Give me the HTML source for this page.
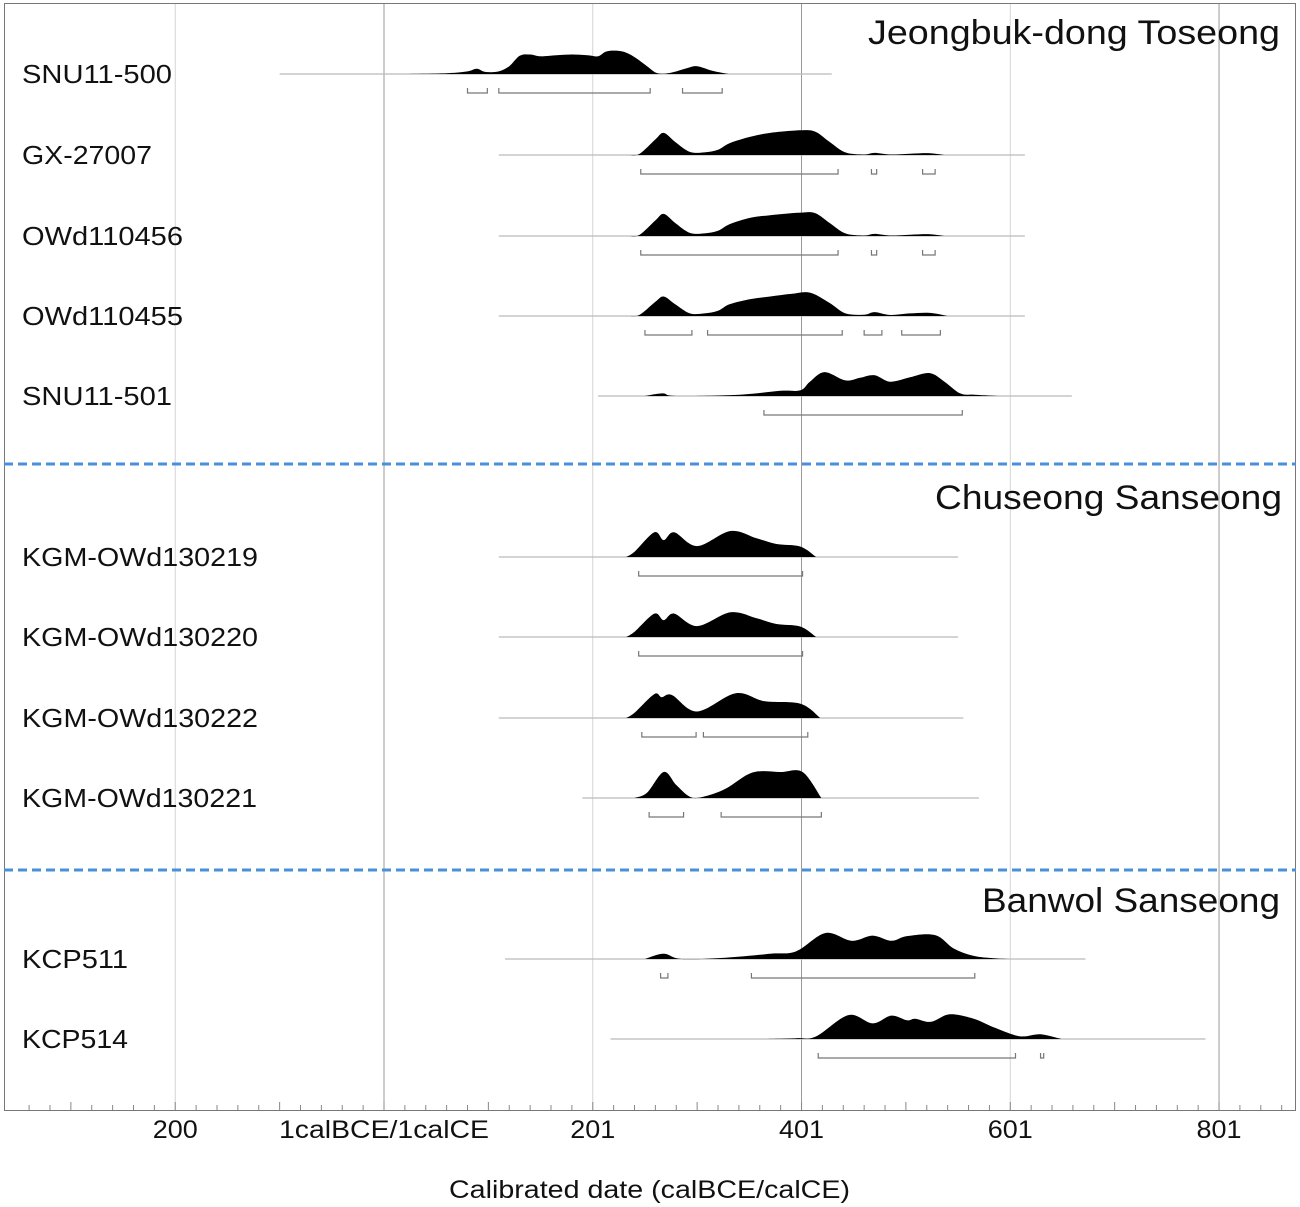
<!DOCTYPE html>
<html><head><meta charset="utf-8"><style>
body{margin:0;background:#fff;}
svg{display:block;font-family:"Liberation Sans",sans-serif;}
</style></head><body>
<svg id="chart" width="1300" height="1207" viewBox="0 0 1300 1207">
<rect x="4.5" y="3.5" width="1291" height="1107" fill="none" stroke="#777" stroke-width="1"/>
<g id="grid"></g><g id="marks"></g><g id="axis"></g>
<line x1="4" x2="1296" y1="464" y2="464" stroke="#4a90d9" stroke-width="3" stroke-dasharray="9,5"/>
<line x1="4" x2="1296" y1="870" y2="870" stroke="#4a90d9" stroke-width="3" stroke-dasharray="9,5"/>
<text x="868" y="44" font-size="34" fill="#111" textLength="412" lengthAdjust="spacingAndGlyphs">Jeongbuk-dong Toseong</text>
<text x="935" y="509" font-size="34" fill="#111" textLength="347" lengthAdjust="spacingAndGlyphs">Chuseong Sanseong</text>
<text x="982" y="912" font-size="34" fill="#111" textLength="298" lengthAdjust="spacingAndGlyphs">Banwol Sanseong</text>
<text x="449" y="1198" font-size="25" fill="#111" textLength="401" lengthAdjust="spacingAndGlyphs">Calibrated date (calBCE/calCE)</text>
</svg>
<script>
const sampleNames=["SNU11-500","GX-27007","OWd110456","OWd110455","SNU11-501","KGM-OWd130219","KGM-OWd130220","KGM-OWd130222","KGM-OWd130221","KCP511","KCP514"];
const labelWidths=[150,130,161,161,150,236,236,236,235,106,106];
const rowY=[74,155,236,316,396,557,637,718,798,959,1039];
const lineSpans=[[-100,429],[110,614],[110,614],[110,614],[205,659],[110,550],[110,550],[110,555],[190,570],[116,672],[217,787]];
const densities=[
[[15,0],[60,0.03],[80,0.1],[89,0.2],[97,0.08],[110,0.1],[120,0.3],[130,0.7],[140,0.75],[150,0.68],[165,0.72],[180,0.75],[195,0.72],[205,0.68],[212,0.85],[220,0.9],[230,0.85],[240,0.65],[252,0.3],[262,0.03],[275,0.05],[290,0.22],[300,0.3],[315,0.12],[330,0]],
[[235,0],[245,0.05],[260,0.6],[268,0.85],[279,0.5],[293,0.12],[307,0.1],[320,0.2],[331,0.45],[351,0.7],[370,0.85],[399,0.95],[413,0.9],[427,0.5],[442,0.1],[460,0.02],[470,0.08],[485,0.02],[504,0.05],[523,0.07],[537,0]],
[[235,0],[245,0.05],[260,0.6],[268,0.85],[279,0.5],[293,0.12],[307,0.1],[320,0.2],[331,0.45],[351,0.7],[370,0.8],[399,0.9],[413,0.88],[427,0.5],[442,0.1],[460,0.02],[470,0.08],[485,0.02],[504,0.05],[523,0.07],[537,0]],
[[235,0],[245,0.05],[260,0.55],[268,0.75],[279,0.45],[293,0.1],[307,0.1],[320,0.2],[331,0.45],[351,0.65],[370,0.75],[390,0.85],[408,0.9],[427,0.5],[442,0.1],[460,0.05],[470,0.15],[485,0.04],[504,0.1],[523,0.12],[540,0]],
[[250,0],[267,0.1],[280,0],[341,0.05],[380,0.2],[399,0.22],[408,0.55],[422,0.92],[442,0.6],[456,0.7],[470,0.8],[485,0.55],[504,0.72],[523,0.88],[537,0.55],[552,0.1],[566,0.05],[590,0]],
[[232,0],[240,0.2],[259,0.95],[268,0.65],[278,0.95],[300,0.42],[332,1],[357,0.72],[376,0.5],[399,0.4],[414,0]],
[[232,0],[240,0.2],[259,0.9],[268,0.65],[278,0.9],[300,0.42],[332,0.95],[357,0.72],[376,0.5],[399,0.4],[414,0]],
[[232,0],[240,0.2],[259,0.92],[266,0.8],[276,0.88],[300,0.25],[337,0.95],[364,0.65],[399,0.55],[418,0]],
[[240,0],[252,0.2],[268,1],[280,0.5],[293,0.05],[305,0.04],[327,0.35],[353,0.98],[380,1],[401,1],[419,0]],
[[250,0],[268,0.2],[285,0],[327,0.05],[370,0.2],[395,0.3],[423,1],[448,0.7],[468,0.9],[486,0.7],[501,0.88],[528,0.92],[546,0.4],[565,0.12],[584,0.03],[600,0]],
[[360,0],[395,0.03],[414,0.1],[445,0.92],[468,0.6],[486,0.9],[501,0.72],[509,0.78],[524,0.66],[542,0.95],[565,0.78],[584,0.45],[604,0.15],[614,0.1],[629,0.18],[649,0]]
];
const ranges=[
[[80,99],[110,255],[286,324]],
[[246,435],[467,472],[516,528]],
[[246,435],[467,472],[516,528]],
[[250,295],[310,439],[460,477],[496,533]],
[[364,554]],
[[244,401]],[[244,401]],
[[247,299],[306,406]],
[[254,287],[323,419]],
[[265,272],[352,566]],
[[416,605],[629,632]]
];
const tickYears=[-200,0,200,400,600,800];
const tickLabels=["200","1calBCE/1calCE","201","401","601","801"];
const NS="http://www.w3.org/2000/svg";
const xs=y=>384+y*1.0438;
const H=26;
function mk(tag,parent,attrs){const e=document.createElementNS(NS,tag);for(const k in attrs)e.setAttribute(k,attrs[k]);parent.appendChild(e);return e;}
const grid=document.getElementById('grid'),marks=document.getElementById('marks'),axis=document.getElementById('axis');
tickYears.forEach((t,i)=>{
  const g=mk('line',grid,{x1:xs(t),x2:xs(t),y1:4,y2:1110,stroke:(t%400===0?'#999':'#d4d4d4'),'stroke-width':1});
  
  
  const w=tickLabels[i].length*15;
  const lb=mk('text',axis,{x:xs(t),y:1138,'text-anchor':'middle','font-size':25,fill:'#111',textLength:w,lengthAdjust:'spacingAndGlyphs'});
  lb.textContent=tickLabels[i];
  
  
});
for(let t=-340;t<=860;t+=20){
  const len=(t%100===0)?8:5;
  const tk=mk('line',axis,{x1:xs(t),x2:xs(t),y1:1110,y2:1110-len,stroke:'#888','stroke-width':1});
  
  
}
function smoothPath(p){
  let d='M'+p[0][0].toFixed(1)+','+p[0][1].toFixed(1);
  for(let i=0;i<p.length-1;i++){
    const p0=p[Math.max(0,i-1)],p1=p[i],p2=p[i+1],p3=p[Math.min(p.length-1,i+2)];
    const c1x=p1[0]+(p2[0]-p0[0])/6,c1y=p1[1]+(p2[1]-p0[1])/6;
    const c2x=p2[0]-(p3[0]-p1[0])/6,c2y=p2[1]-(p3[1]-p1[1])/6;
    d+=` C${c1x.toFixed(1)},${c1y.toFixed(1)} ${c2x.toFixed(1)},${c2y.toFixed(1)} ${p2[0].toFixed(1)},${p2[1].toFixed(1)}`;
  }
  return d;
}
sampleNames.forEach((n,i)=>{
  const y0=rowY[i];
  const lb=mk('text',marks,{x:22,y:y0+9,'font-size':26,fill:'#111',textLength:labelWidths[i],lengthAdjust:'spacingAndGlyphs'});
  lb.textContent=n;
  
  
  const bl=mk('line',marks,{x1:xs(lineSpans[i][0]),x2:xs(lineSpans[i][1]),y1:y0,y2:y0,stroke:'#bbb','stroke-width':1.2});
  
  
  const pts=densities[i].map(p=>[xs(p[0]),Math.min(y0,y0-p[1]*H)]);
  const d=smoothPath(pts)+' Z';
  const pa=mk('path',marks,{d:d,fill:'#000'});
  
  
  ranges[i].forEach(r=>{
    const a=xs(r[0]),b=xs(r[1]),yb=y0+19;
    const br=mk('path',marks,{d:`M${a},${yb-5} L${a},${yb} L${b},${yb} L${b},${yb-5}`,fill:'none',stroke:'#777','stroke-width':1.2});
    
    
  });
});
</script>
</body></html>
